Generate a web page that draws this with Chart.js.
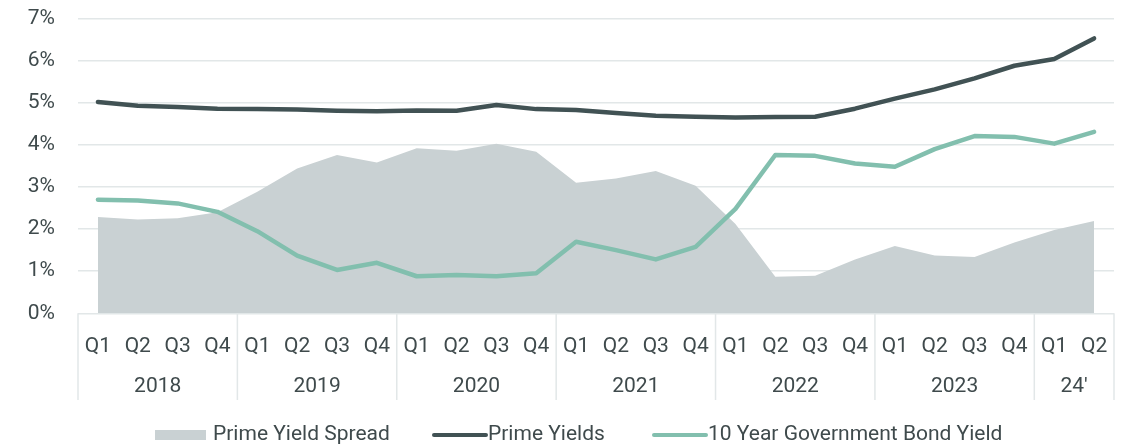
<!DOCTYPE html>
<html>
<head>
<meta charset="utf-8">
<script src="https://cdn.jsdelivr.net/npm/chart.js@4.4.1/dist/chart.umd.min.js"></script>
<style>
  html, body { margin: 0; padding: 0; background: #ffffff; }
  #wrap { width: 1139px; height: 445px; position: relative; }
</style>
</head>
<body>
<div id="wrap"><canvas id="c" width="1139" height="445"></canvas></div>
<script>
// Quarterly axis labels and year groupings
const quarterLabels = [
  'Q1','Q2','Q3','Q4', 'Q1','Q2','Q3','Q4', 'Q1','Q2','Q3','Q4',
  'Q1','Q2','Q3','Q4', 'Q1','Q2','Q3','Q4', 'Q1','Q2','Q3','Q4',
  'Q1','Q2'
];
const yearLabels = ['2018', '2019', '2020', '2021', '2022', '2023', "24'"];
const quartersPerYear = [4, 4, 4, 4, 4, 4, 2];

// Series values (%)
const primeYieldSpread = [
  2.29, 2.23, 2.26, 2.40, 2.89, 3.44, 3.76, 3.58, 3.92, 3.86, 4.03, 3.84,
  3.10, 3.20, 3.38, 3.03, 2.12, 0.87, 0.89, 1.28, 1.60, 1.37, 1.34, 1.68,
  1.98, 2.19
];
const primeYields = [
  5.02, 4.93, 4.90, 4.86, 4.85, 4.84, 4.81, 4.80, 4.82, 4.81, 4.95, 4.85,
  4.83, 4.76, 4.69, 4.67, 4.65, 4.66, 4.67, 4.86, 5.10, 5.32, 5.58, 5.88,
  6.04, 6.53
];
const govBondYield = [
  2.70, 2.68, 2.61, 2.41, 1.95, 1.37, 1.03, 1.20, 0.88, 0.91, 0.88, 0.95,
  1.70, 1.50, 1.28, 1.58, 2.48, 3.76, 3.74, 3.56, 3.48, 3.90, 4.21, 4.19,
  4.03, 4.31
];
const yTicks = [0, 1, 2, 3, 4, 5, 6, 7];

const TEXT = '#3f4a4c';
const GRID = '#e2e7e8';
const FONT = 'Roboto, "DejaVu Sans", sans-serif';
const FONT_SIZE = 21;

// Year row under the quarter labels, with separators between years
const yearGroups = {
  id: 'yearGroups',
  afterDraw(chart) {
    const x = chart.scales.x;
    const ctx = chart.ctx;
    const step = x.getPixelForValue(1) - x.getPixelForValue(0);
    const top = chart.chartArea.bottom;
    const sepBottom = 400;
    ctx.save();
    ctx.strokeStyle = GRID;
    ctx.lineWidth = 1.5;
    ctx.fillStyle = TEXT;
    ctx.font = FONT_SIZE + 'px ' + FONT;
    ctx.textAlign = 'center';
    ctx.textBaseline = 'middle';
    let idx = 0;
    const edges = [];
    yearLabels.forEach((label, i) => {
      const n = quartersPerYear[i];
      const left = x.getPixelForValue(idx) - step / 2;
      const right = x.getPixelForValue(idx + n - 1) + step / 2;
      if (i === 0) edges.push(left);
      edges.push(right);
      ctx.fillText(label, (left + right) / 2, 387);
      idx += n;
    });
    edges.forEach(e => {
      ctx.beginPath();
      ctx.moveTo(e, top);
      ctx.lineTo(e, sepBottom);
      ctx.stroke();
    });
    ctx.restore();
  }
};

// Legend row at the bottom
const bottomLegend = {
  id: 'bottomLegend',
  afterDraw(chart) {
    const ctx = chart.ctx;
    const y = 435;
    const items = [
      { ds: 0, x: 155, kind: 'box' },
      { ds: 1, x: 432, kind: 'line' },
      { ds: 2, x: 652, kind: 'line' }
    ];
    ctx.save();
    ctx.font = FONT_SIZE + 'px ' + FONT;
    ctx.textBaseline = 'middle';
    ctx.textAlign = 'left';
    items.forEach(it => {
      const ds = chart.data.datasets[it.ds];
      if (it.kind === 'box') {
        ctx.fillStyle = ds.backgroundColor;
        ctx.fillRect(it.x, y - 5, 51, 10);
        ctx.fillStyle = TEXT;
        ctx.fillText(ds.label, it.x + 58, y);
      } else {
        ctx.strokeStyle = ds.borderColor;
        ctx.lineWidth = 4;
        ctx.lineCap = 'round';
        ctx.beginPath();
        ctx.moveTo(it.x + 2, y);
        ctx.lineTo(it.x + 54, y);
        ctx.stroke();
        ctx.fillStyle = TEXT;
        ctx.fillText(ds.label, it.x + 56, y);
      }
    });
    ctx.restore();
  }
};

new Chart(document.getElementById('c'), {
  type: 'line',
  data: {
    labels: quarterLabels,
    datasets: [
      {
        label: 'Prime Yield Spread',
        data: primeYieldSpread,
        backgroundColor: '#c9d1d3',
        borderColor: '#c9d1d3',
        borderWidth: 0,
        fill: 'origin',
        pointRadius: 0,
        tension: 0,
        order: 3
      },
      {
        label: 'Prime Yields',
        data: primeYields,
        borderColor: '#415254',
        backgroundColor: '#415254',
        borderWidth: 4.5,
        borderCapStyle: 'round',
        borderJoinStyle: 'round',
        fill: false,
        pointRadius: 0,
        tension: 0,
        order: 1
      },
      {
        label: '10 Year Government Bond Yield',
        data: govBondYield,
        borderColor: '#82bfae',
        backgroundColor: '#82bfae',
        borderWidth: 4.5,
        borderCapStyle: 'round',
        borderJoinStyle: 'round',
        fill: false,
        pointRadius: 0,
        tension: 0,
        order: 2
      }
    ]
  },
  options: {
    responsive: false,
    animation: false,
    events: [],
    layout: { padding: { top: 0, right: 25, left: 0, bottom: 0 } },
    plugins: {
      legend: { display: false },
      tooltip: { enabled: false }
    },
    scales: {
      x: {
        type: 'category',
        offset: true,
        grid: { display: false, drawTicks: false },
        border: { display: false },
        ticks: {
          color: TEXT,
          font: { family: FONT, size: FONT_SIZE },
          padding: 21,
          maxRotation: 0,
          autoSkip: false
        },
        afterFit(scale) { scale.height = 445 - 313.3; }
      },
      y: {
        min: 0,
        max: 7,
        afterBuildTicks(scale) { scale.ticks = yTicks.map(v => ({ value: v })); },
        grid: { color: GRID, lineWidth: 1.5, drawTicks: true, tickLength: 17, tickColor: 'rgba(0,0,0,0)' },
        border: { display: false },
        ticks: {
          color: TEXT,
          font: { family: FONT, size: FONT_SIZE },
          padding: 6,
          callback: v => v + '%'
        },
        afterFit(scale) { scale.width = 78; }
      }
    }
  },
  plugins: [yearGroups, bottomLegend]
});
</script>
</body>
</html>
